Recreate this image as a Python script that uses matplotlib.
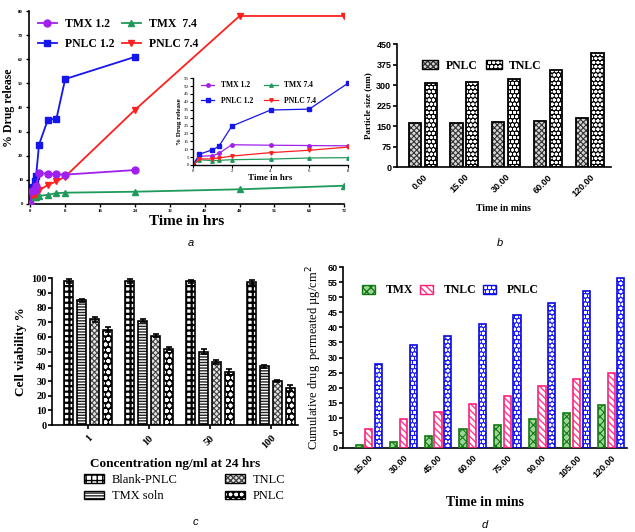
import numpy as np
import matplotlib
matplotlib.use("Agg")
import matplotlib.pyplot as plt
from matplotlib.patches import Patch
from matplotlib.legend_handler import HandlerTuple

SERIF = "Liberation Serif"
SANS = "Liberation Sans"
plt.rcParams["font.family"] = SERIF
plt.rcParams["hatch.linewidth"] = 1.0

# ---------------- panel a : release profile ----------------
t_hrs = [0, 0.33, 1, 1.33, 2, 4, 6, 8, 24, 48, 72]
tmx_12 = [0, 5.5, 5.8, 7.3, 12.8, 12.5, 12.3, 12.1, 14.0]
tmx_74 = [0, 3.3, 2.7, 2.9, 3.3, 3.7, 4.4, 4.6, 5.0, 6.0, 7.5]
pnlc_12 = [0, 6.8, 9.6, 11.7, 24.6, 34.8, 35.4, 51.8, 61.0]
pnlc_74 = [0, 3.8, 3.8, 4.4, 5.6, 7.8, 9.3, 11.3, 39.0, 78.0, 78.0]

# ---------------- panel b : particle size ----------------
b_labels = ["0.00", "15.00", "30.00", "60.00", "120.00"]
b_pnlc = [160, 162, 165, 170, 178]
b_tnlc = [308, 313, 322, 356, 418]

# ---------------- panel c : cell viability ----------------
c_labels = ["1", "10", "50", "100"]
c_blank = [98, 98, 98, 97.5]
c_tmx = [85, 71, 50, 40]
c_tnlc = [72, 61, 43, 30]
c_pnlc = [65, 52, 36, 25]
c_err_blank = [1.2, 1.2, 1.0, 1.5]
c_err_tmx = [1.0, 1.0, 1.5, 1.2]
c_err_tnlc = [1.5, 1.2, 1.5, 1.0]
c_err_pnlc = [1.5, 1.0, 2.0, 2.0]

# ---------------- panel d : permeation ----------------
d_labels = ["15.00", "30.00", "45.00", "60.00", "75.00", "90.00", "105.00", "120.00"]
d_tmx = [1.0, 2.0, 4.0, 6.2, 7.6, 9.5, 11.7, 14.2]
d_tnlc = [6.2, 9.7, 11.8, 14.6, 17.2, 20.5, 23.0, 25.0]
d_pnlc = [28.0, 34.0, 37.0, 41.0, 44.0, 48.0, 52.0, 56.5]

OVERLAY = {tuple: HandlerTuple(ndivide=1, pad=0)}


def hatched_bar(ax, x, h, w, face, hcol, hatch, edge, lw=1.0, hlw=1.0):
    with plt.rc_context({"hatch.linewidth": hlw}):
        bars = ax.bar(x, h, w, color=face, edgecolor=hcol, hatch=hatch, linewidth=0, zorder=2)
        for b in bars:
            if hasattr(b, "set_hatch_linewidth"):
                b.set_hatch_linewidth(hlw)
    ax.bar(x, h, w, fill=False, edgecolor=edge, linewidth=lw, zorder=3)


def hatched_handle(face, hcol, hatch, edge, lw=1.0, hlw=1.0):
    with plt.rc_context({"hatch.linewidth": hlw}):
        p = Patch(facecolor=face, edgecolor=hcol, hatch=hatch, linewidth=0)
        if hasattr(p, "set_hatch_linewidth"):
            p.set_hatch_linewidth(hlw)
    return (p, Patch(fill=False, edgecolor=edge, linewidth=lw))


def style_axes(ax, lw=1.2):
    for s in ["top", "right"]:
        ax.spines[s].set_visible(False)
    for s in ["left", "bottom"]:
        ax.spines[s].set_linewidth(lw)


fig = plt.figure(figsize=(6.35, 5.32), dpi=100)

# ================= a =================
ax = fig.add_axes([0.045, 0.617, 0.497, 0.362])
style_axes(ax)
ax.plot(t_hrs[:len(tmx_12)], tmx_12, color="#a020f0", marker="o", ms=5, lw=1.3, label="TMX 1.2", zorder=4)
ax.plot(t_hrs[:len(pnlc_12)], pnlc_12, color="#1515ee", marker="s", ms=5, lw=1.3, label="PNLC 1.2")
ax.plot(t_hrs, tmx_74, color="#1f9a5a", marker="^", ms=5, lw=1.3, label="TMX  7.4")
ax.plot(t_hrs, pnlc_74, color="#ff2020", marker="v", ms=5, lw=1.3, label="PNLC 7.4")
ax.set_xlim(-0.4, 72)
ax.set_ylim(0, 80)
ax.set_xticks(np.arange(0, 73, 8))
ax.set_yticks(np.arange(0, 81, 10))
ax.tick_params(labelsize=3.5, length=2.5, width=1, pad=1.5)
for lab in ax.get_xticklabels() + ax.get_yticklabels():
    lab.set_fontweight("bold")
ax.set_xlabel("Time in hrs", fontsize=11, fontweight="bold", labelpad=1)
ax.set_ylabel("% Drug release", fontsize=8.5, fontweight="bold", labelpad=2)
ax.legend(ncol=2, loc="upper left", bbox_to_anchor=(0.015, 0.99), frameon=False,
          prop=dict(family=SERIF, weight="bold", size=8.5), handlelength=1.6,
          handletextpad=0.7, columnspacing=0.6, labelspacing=0.7, borderaxespad=0)

# inset
axi = fig.add_axes([0.304, 0.690, 0.244, 0.163])
style_axes(axi, lw=1.0)
k = 8
axi.plot(t_hrs[:k], tmx_12[:k], color="#a020f0", marker="o", ms=2.5, lw=0.9, label="TMX 1.2")
axi.plot(t_hrs[:k], pnlc_12[:k], color="#1515ee", marker="s", ms=2.5, lw=0.9, label="PNLC 1.2")
axi.plot(t_hrs[:k], tmx_74[:k], color="#1f9a5a", marker="^", ms=2.5, lw=0.9, label="TMX 7.4")
axi.plot(t_hrs[:k], pnlc_74[:k], color="#ff2020", marker="v", ms=2.5, lw=0.9, label="PNLC 7.4")
axi.set_xlim(0, 8)
axi.set_ylim(0, 55)
axi.set_xticks([0, 2, 4, 6, 8])
axi.set_yticks(np.arange(0, 56, 5))
axi.tick_params(labelsize=3.5, length=2, width=0.8, pad=1)
axi.set_xlabel("Time in hrs", fontsize=6.5, fontweight="bold", labelpad=1)
axi.set_ylabel("% Drug release", fontsize=5, fontweight="bold", labelpad=1)
axi.legend(ncol=2, loc="upper left", bbox_to_anchor=(0.03, 1.0), frameon=False,
           prop=dict(family=SERIF, weight="bold", size=5.5), handlelength=1.8,
           columnspacing=1.5, labelspacing=1.0, borderaxespad=0)

fig.text(191 / 635, 1 - 243 / 532, "a", fontsize=8, style="italic", family=SANS,
         ha="center", va="center")

# ================= b =================
ax = fig.add_axes([0.625, 0.686, 0.337, 0.231])
style_axes(ax)
xb = np.arange(len(b_labels))
b_sty_p = ("#d8d8d8", "#333333", "xxxxxx", "black")
b_sty_t = ("black", "white", "oooo", "black")
hatched_bar(ax, xb - 0.19, b_pnlc, 0.29, *b_sty_p, 1.3, 0.8)
hatched_bar(ax, xb + 0.19, b_tnlc, 0.29, *b_sty_t, 1.3, 1.0)
ax.set_xlim(-0.62, 4.51)
ax.set_ylim(0, 450)
ax.set_yticks(np.arange(0, 451, 75))
ax.set_xticks(xb)
ax.set_xticklabels(b_labels, rotation=45, ha="right", rotation_mode="anchor")
ax.tick_params(axis="x", length=0, pad=4)
ax.tick_params(axis="y", length=3, width=1.2, pad=1)
for lab in ax.get_xticklabels() + ax.get_yticklabels():
    lab.set_fontfamily(SANS)
    lab.set_fontweight("bold")
    lab.set_fontsize(6.5)
ax.set_xlabel("Time in mins", fontsize=7, fontweight="bold", labelpad=4)
ax.set_ylabel("Particle size (nm)", fontsize=6.5, fontweight="bold", labelpad=3)
ax.legend([hatched_handle(*b_sty_p, 1.0, 0.8), hatched_handle(*b_sty_t, 1.0, 1.0)],
          ["PNLC", "TNLC"], handler_map=OVERLAY,
          ncol=2, loc="upper left", bbox_to_anchor=(0.095, 0.91), frameon=False,
          prop=dict(family=SERIF, weight="bold", size=8.5), handlelength=1.4,
          handleheight=0.8, handletextpad=0.6, columnspacing=0.7, borderaxespad=0)
fig.text(500 / 635, 1 - 243 / 532, "b", fontsize=8, style="italic", family=SANS,
         ha="center", va="center")

# ================= c =================
ax = fig.add_axes([0.082, 0.201, 0.387, 0.276])
style_axes(ax)
xc = np.arange(len(c_labels))
w = 0.15
sp = 0.213
c_styles = [
    (c_blank, c_err_blank, ("white", "black", "+++", "black"), 1.6, "Blank-PNLC"),
    (c_tmx, c_err_tmx, ("white", "#222222", "------", "black"), 1.0, "TMX soln"),
    (c_tnlc, c_err_tnlc, ("#e6e6e6", "#444444", "xxxxxx", "black"), 0.8, "TNLC"),
    (c_pnlc, c_err_pnlc, ("black", "white", "ooo", "black"), 1.2, "PNLC"),
]
handles = []
labels = []
for i, (vals, err, sty, hlw, lab) in enumerate(c_styles):
    xs = xc + (i - 1.5) * sp
    hatched_bar(ax, xs, vals, w, *sty, 1.2, hlw)
    ax.errorbar(xs, vals, yerr=err, fmt="none", ecolor="black", elinewidth=1.2,
                capsize=2.5, capthick=1.2, zorder=4)
    handles.append(hatched_handle(*sty, 1.0, hlw))
    labels.append(lab)
ax.set_xlim(-0.59, 3.44)
ax.set_ylim(0, 100)
ax.set_yticks(np.arange(0, 101, 10))
ax.set_xticks(xc)
ax.set_xticklabels(c_labels, rotation=45, ha="right", rotation_mode="anchor")
ax.tick_params(axis="x", length=3, width=1.2, pad=3)
ax.tick_params(axis="y", length=3, width=1.2, pad=1)
for lab in ax.get_xticklabels() + ax.get_yticklabels():
    lab.set_fontweight("bold")
    lab.set_fontsize(7.5)
ax.set_xlabel("Concentration ng/ml at 24 hrs", fontsize=9.5, fontweight="bold", labelpad=5)
ax.set_ylabel("Cell viability %", fontsize=9.5, fontweight="bold", labelpad=3)
ax.legend(handles, labels, handler_map=OVERLAY,
          ncol=2, loc="upper left", bbox_to_anchor=(0.11, -0.30), frameon=False,
          prop=dict(family=SERIF, size=9), handlelength=1.6, handleheight=0.7,
          handletextpad=0.6, columnspacing=3.8, labelspacing=0.35, borderaxespad=0)
fig.text(195 / 635, 1 - 522 / 532, "c", fontsize=8, style="italic", family=SANS,
         ha="center", va="center")

# ================= d =================
ax = fig.add_axes([0.540, 0.158, 0.447, 0.340])
style_axes(ax)
xd = np.arange(len(d_labels))
wd = 0.21
off = 0.28
d_styles = [
    (d_tmx, ("#9ed69a", "#137a13", "xxxx", "#137a13"), 0.8, "TMX"),
    (d_tnlc, ("white", "#ff3a8c", "\\\\\\\\\\", "#ff1f7a"), 1.0, "TNLC"),
    (d_pnlc, ("#1a1aff", "white", "oooo", "#0a0ae0"), 1.0, "PNLC"),
]
handles = []
labels = []
for i, (vals, sty, hlw, lab) in enumerate(d_styles):
    hatched_bar(ax, xd + (i - 1) * off, vals, wd, *sty, 1.2, hlw)
    handles.append(hatched_handle(*sty, 1.0, hlw))
    labels.append(lab)
ax.set_xlim(-0.75, 7.45)
ax.set_ylim(0, 60)
ax.set_yticks(np.arange(0, 61, 5))
ax.set_xticks(xd)
ax.set_xticklabels(d_labels, rotation=45, ha="right", rotation_mode="anchor")
ax.tick_params(axis="x", length=0, pad=4)
ax.tick_params(axis="y", length=3, width=1.2, pad=1)
for lab in ax.get_xticklabels() + ax.get_yticklabels():
    lab.set_fontfamily(SANS)
    lab.set_fontweight("bold")
    lab.set_fontsize(6.5)
ax.set_xlabel("Time in mins", fontsize=10, fontweight="bold", labelpad=12)
ax.set_ylabel("Cumulative drug  permeated \u00b5g/cm$^2$", fontsize=9, labelpad=2)
ax.legend(handles, labels, handler_map=OVERLAY,
          ncol=3, loc="upper left", bbox_to_anchor=(0.05, 0.93), frameon=False,
          prop=dict(family=SERIF, weight="bold", size=8.5), handlelength=1.1,
          handleheight=0.8, handletextpad=0.9, columnspacing=0.6, borderaxespad=0)
fig.text(485 / 635, 1 - 525 / 532, "d", fontsize=8, style="italic", family=SANS,
         ha="center", va="center")

fig.savefig("out.png", dpi=100)
